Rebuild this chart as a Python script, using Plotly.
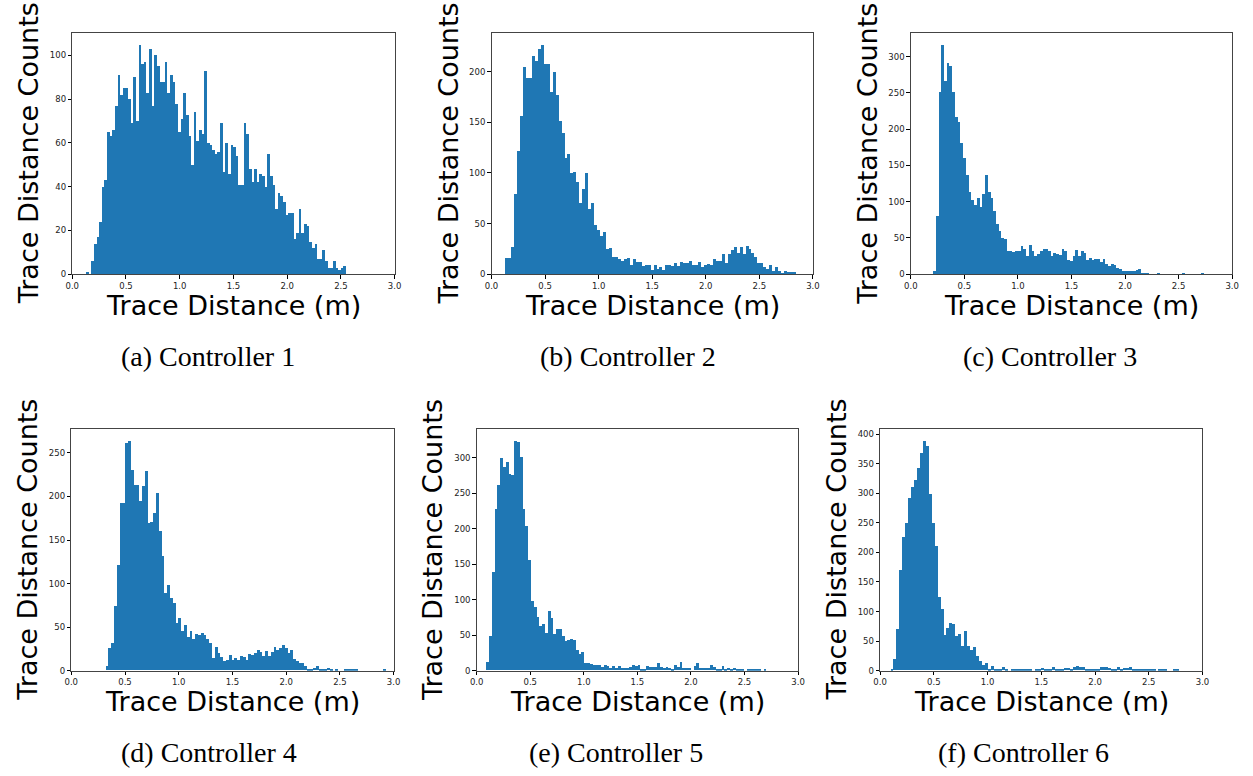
import plotly.graph_objects as go

# ---------------- data (histogram counts per bin) ----------------
captions = ["(a) Controller 1", "(b) Controller 2", "(c) Controller 3",
            "(d) Controller 4", "(e) Controller 5", "(f) Controller 6"]

# bin start (m) and bin width (m) for each controller's histogram
c1_start, c1_width = 0.131, 0.02444
c2_start, c2_width = 0.123, 0.0277
c3_start, c3_width = 0.206, 0.02554
c4_start, c4_width = 0.322, 0.02607
c5_start, c5_width = 0.0862, 0.02615
c6_start, c6_width = 0.098, 0.0274

c1_counts = [1, 0, 6, 14, 17, 24, 40, 43, 65, 63, 66, 77, 91, 82, 85, 85, 80, 69, 90, 70,
             105, 96, 97, 83, 103, 77, 100, 95, 88, 88, 97, 83, 91, 88, 78, 65, 71, 83, 73, 63,
             50, 74, 61, 66, 64, 93, 60, 59, 57, 55, 56, 69, 47, 60, 46, 59, 58, 54, 41, 41,
             69, 64, 48, 42, 48, 42, 46, 45, 40, 55, 45, 41, 30, 37, 36, 33, 27, 28, 28, 16,
             19, 30, 19, 23, 22, 15, 12, 14, 7, 7, 11, 6, 3, 3, 6, 3, 2, 3, 4]

c2_counts = [16, 16, 27, 79, 122, 156, 205, 194, 194, 216,
             211, 223, 227, 208, 208, 180, 200, 177, 151, 140,
             115, 119, 100, 101, 91, 71, 84, 100, 65, 71,
             49, 44, 38, 42, 25, 26, 17, 17, 15, 13,
             15, 16, 9, 15, 12, 12, 8, 9, 9, 4,
             9, 5, 7, 4, 9, 9, 8, 11, 8, 12,
             11, 11, 13, 9, 9, 12, 7, 9, 10, 9,
             15, 13, 13, 20, 11, 20, 24, 27, 21, 27,
             20, 28, 25, 21, 17, 11, 11, 7, 5, 9,
             3, 7, 3, 1, 3, 2, 2, 2]

c3_counts = [5, 80, 252, 317, 266, 291, 287, 251, 217, 210,
             181, 161, 137, 114, 102, 96, 105, 93, 111, 137,
             113, 105, 87, 70, 60, 50, 49, 32, 32, 31,
             32, 32, 39, 35, 26, 41, 33, 25, 28, 33,
             35, 35, 32, 25, 30, 28, 27, 35, 33, 20,
             19, 25, 34, 26, 32, 30, 20, 23, 20, 21,
             21, 17, 21, 14, 12, 15, 13, 9, 7, 5,
             5, 5, 5, 5, 6, 7, 1, 1, 1, 0,
             0, 0, 1, 0, 0, 0, 0, 0, 0, 0,
             0, 1, 0, 0, 0, 0, 0, 0, 1]

c4_counts = [5, 26, 32, 74, 121, 192, 192, 261, 264, 230,
             213, 213, 194, 212, 229, 169, 171, 181, 204, 160,
             131, 89, 98, 83, 77, 54, 60, 45, 52, 38,
             45, 36, 42, 41, 43, 41, 36, 32, 14, 27,
             20, 16, 11, 12, 18, 12, 14, 12, 17, 15,
             12, 19, 18, 20, 23, 21, 17, 22, 17, 21,
             27, 24, 26, 29, 26, 20, 24, 13, 11, 9,
             8, 5, 2, 2, 3, 5, 1, 2, 2, 3,
             2, 0, 2, 0, 0, 1, 2, 2, 1, 1,
             0, 0, 0, 0, 0, 0, 0, 0, 0, 2]

c5_counts = [12, 48, 139, 227, 262, 299, 287, 294, 277, 275,
             324, 322, 301, 228, 203, 156, 98, 89, 76, 63,
             65, 53, 84, 74, 52, 59, 59, 48, 41, 43,
             45, 43, 29, 23, 26, 11, 11, 9, 8, 7,
             7, 5, 8, 6, 4, 6, 4, 6, 4, 3,
             4, 5, 7, 6, 8, 1, 1, 6, 5, 5,
             5, 10, 5, 3, 5, 3, 1, 7, 5, 12,
             3, 3, 3, 0, 6, 10, 3, 3, 3, 3,
             8, 5, 2, 1, 6, 1, 4, 1, 4, 1,
             1, 1, 0, 1, 1, 2, 1, 2, 0, 1]

c6_counts = [3, 20, 70, 170, 225, 249, 292, 311, 323, 342,
             368, 389, 380, 298, 249, 210, 124, 104, 60, 72,
             80, 79, 59, 61, 42, 66, 42, 35, 39, 25,
             16, 9, 13, 3, 7, 3, 2, 3, 5, 2,
             0, 2, 2, 1, 2, 1, 2, 2, 0, 1,
             1, 4, 2, 2, 3, 5, 3, 2, 3, 4,
             4, 2, 5, 8, 6, 6, 3, 3, 2, 2,
             3, 5, 5, 5, 4, 2, 2, 6, 3, 4,
             4, 5, 2, 2, 3, 3, 3, 1, 2, 1,
             0, 1, 1, 1, 0, 0, 2, 1]

x_tick_vals = [0.0, 0.5, 1.0, 1.5, 2.0, 2.5, 3.0]
x_tick_text = ["0.0", "0.5", "1.0", "1.5", "2.0", "2.5", "3.0"]
y_dticks = [20, 50, 50, 50, 50, 50]

x_title = "Trace Distance (m)"
y_title = "Trace Distance Counts"

# ---------------- layout (pixel boxes of the plot areas) ----------------
W, H = 1253, 776
panels = [(66, 392, 33, 276), (490, 815, 33, 276), (914, 1239, 33, 276),
          (65, 391, 432, 675), (475, 800, 432, 675), (883, 1209, 432, 675)]
caption_pos = [(203, 359), (628, 359), (1055, 359),
               (204, 757), (616, 757), (1028, 757)]

series = [(c1_counts, c1_start, c1_width), (c2_counts, c2_start, c2_width),
          (c3_counts, c3_start, c3_width), (c4_counts, c4_start, c4_width),
          (c5_counts, c5_start, c5_width), (c6_counts, c6_start, c6_width)]

BLUE = "#1f77b4"
tick_font = dict(family="DejaVu Sans", size=8.5, color="#222222")

fig = go.Figure()
annotations = []
layout_axes = {}

for k, (counts, start, width) in enumerate(series):
    sfx = "" if k == 0 else str(k + 1)
    xs = [start + width * (i + 0.5) for i in range(len(counts))]
    fig.add_trace(go.Bar(
        x=xs, y=counts, width=[width] * len(counts),
        marker=dict(color=BLUE, line=dict(width=0)),
        xaxis="x" + sfx, yaxis="y" + sfx,
        showlegend=False, hoverinfo="skip"))

    l, r, t, b = panels[k]
    common = dict(
        ticks="outside", ticklen=3.5, tickwidth=0.8, tickcolor="#000000",
        showline=True, linecolor="#444444", linewidth=1, mirror=True,
        showgrid=False, zeroline=False, tickfont=tick_font, fixedrange=True)
    layout_axes["xaxis" + sfx] = dict(
        domain=[l / W, r / W], range=[0, 3], anchor="y" + sfx,
        tickmode="array", tickvals=x_tick_vals, ticktext=x_tick_text, **common)
    layout_axes["yaxis" + sfx] = dict(
        domain=[1 - b / H, 1 - t / H], range=[0, 1.05 * max(counts)],
        anchor="x" + sfx, dtick=y_dticks[k], tickformat="d", **common)

    # axis titles
    annotations.append(dict(
        text=x_title, x=(l + r) / 2 / W, y=1 - (b + 31) / H,
        xref="paper", yref="paper", showarrow=False,
        xanchor="center", yanchor="middle",
        font=dict(family="DejaVu Sans", size=27, color="#000000")))
    annotations.append(dict(
        text=y_title, x=(l - 44) / W, y=1 - ((t + b) / 2) / H,
        xref="paper", yref="paper", showarrow=False, textangle=-90,
        xanchor="center", yanchor="middle",
        font=dict(family="DejaVu Sans", size=27, color="#000000")))
    # caption
    cx, cy = caption_pos[k]
    annotations.append(dict(
        text=captions[k], x=cx / W, y=1 - cy / H,
        xref="paper", yref="paper", showarrow=False,
        xanchor="center", yanchor="middle",
        font=dict(family="Liberation Serif", size=28, color="#000000")))

fig.update_layout(
    width=W, height=H, margin=dict(l=0, r=0, t=0, b=0),
    paper_bgcolor="white", plot_bgcolor="white",
    bargap=0, annotations=annotations, **layout_axes)

fig.write_html("out.html")
